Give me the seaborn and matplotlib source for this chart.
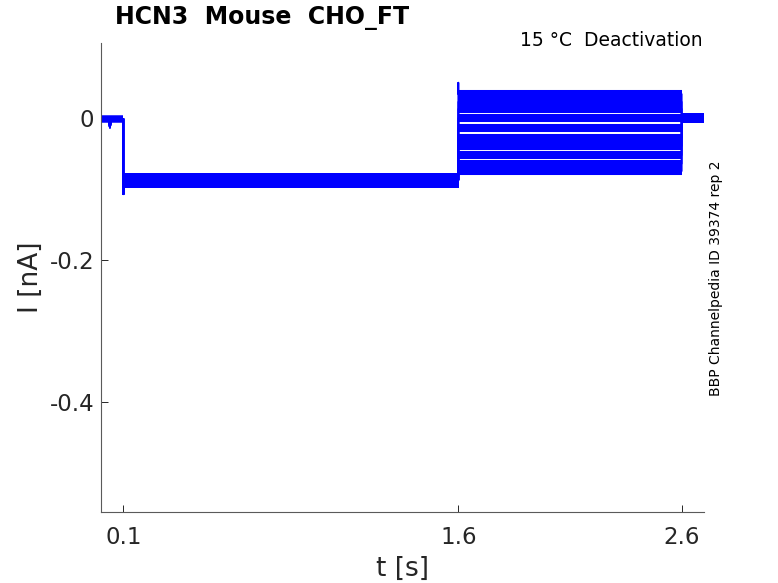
import numpy as np
import pandas as pd
import matplotlib
matplotlib.use("Agg")
import matplotlib.pyplot as plt
import seaborn as sns

# ---- data ----
t_start, t_step_on, t_step_off, t_tail_off, t_end = 0.0, 0.1, 1.6, 2.6, 2.7
hold_level = -0.001          # nA, before step
step_level = -0.087          # nA, hyperpolarising step
post_level = 0.0             # nA, after tail
on_spike = -0.107            # capacitive transient at step onset
off_spike = 0.050            # capacitive transient at step offset
pre_dip_t = [0.035, 0.040, 0.045]
pre_dip_i = [-0.001, -0.013, -0.001]
tail_levels = [0.034, 0.023, 0.013, 0.0, -0.014, -0.0275, -0.039, -0.052, -0.064, -0.0745]

x_ticks = [0.1, 1.6, 2.6]
x_tick_labels = ["0.1", "1.6", "2.6"]
y_ticks = [0.0, -0.2, -0.4]
y_tick_labels = ["0", "-0.2", "-0.4"]

# ---- build long-form tables ----
thin_rows, hold_rows, step_rows, tail_rows, post_rows = [], [], [], [], []
for k, tl in enumerate(tail_levels):
    spike_off = off_spike if k == 0 else max(tl, step_level)
    ts = [t_start] + pre_dip_t + [t_step_on, t_step_on, t_step_on, t_step_off, t_step_off,
                                  t_step_off, t_tail_off, t_tail_off, t_end]
    cur = [hold_level] + pre_dip_i + [hold_level, on_spike, step_level, step_level, spike_off,
                                      tl, tl, post_level, post_level]
    for o, (t, c) in enumerate(zip(ts, cur)):
        thin_rows.append(dict(sweep=k, order=o, t=t, i=c))
    for o, (t, c) in enumerate([(t_start, hold_level), (t_step_on, hold_level)]):
        hold_rows.append(dict(sweep=k, order=o, t=t, i=c))
    for o, (t, c) in enumerate([(t_step_on + 0.004, step_level), (t_step_off, step_level)]):
        step_rows.append(dict(sweep=k, order=o, t=t, i=c))
    for o, (t, c) in enumerate([(t_step_off, tl), (t_tail_off, tl)]):
        tail_rows.append(dict(sweep=k, order=o, t=t, i=c))
    for o, (t, c) in enumerate([(t_tail_off, post_level), (t_end, post_level)]):
        post_rows.append(dict(sweep=k, order=o, t=t, i=c))

thin = pd.DataFrame(thin_rows)
hold = pd.DataFrame(hold_rows)
step = pd.DataFrame(step_rows)
tail = pd.DataFrame(tail_rows)
post = pd.DataFrame(post_rows)

sns.set_style("white")
plt.rcParams["font.family"] = ["DejaVu Sans"]

fig = plt.figure(figsize=(7.78, 5.83), dpi=100)
ax = fig.add_axes([101 / 778, 1 - 512 / 583, (704 - 101) / 778, (512 - 43) / 583])

blue = "#0000ff"
pal = [blue] * len(tail_levels)
common = dict(x="t", y="i", hue="sweep", units="sweep", estimator=None, sort=False,
              palette=pal, legend=False, ax=ax)
sns.lineplot(data=thin, lw=1.3, **common)
sns.lineplot(data=hold, lw=4.5, **common)
sns.lineplot(data=step, lw=10.5, **common)
sns.lineplot(data=tail, lw=5.8, **common)
sns.lineplot(data=post, lw=7.0, **common)
for ln in ax.get_lines():
    ln.set_solid_capstyle("butt")

ax.set_xlim(0.0, 2.7)
ax.set_ylim(-0.555, 0.106)
ax.set_xticks(x_ticks)
ax.set_xticklabels(x_tick_labels)
ax.set_yticks(y_ticks)
ax.set_yticklabels(y_tick_labels)
ax.tick_params(direction="in", length=5, width=0.7, colors="#262626", labelsize=16.5,
               bottom=True, left=True, top=False, right=False)
ax.tick_params(axis="x", pad=10)
ax.tick_params(axis="y", pad=5)
for s in ["top", "right"]:
    ax.spines[s].set_visible(False)
for s in ["bottom", "left"]:
    ax.spines[s].set_color("#5a5a5a")
    ax.spines[s].set_linewidth(0.8)

ax.set_xlabel("t [s]", fontsize=19, color="#262626", labelpad=5)
ax.set_ylabel("I [nA]", fontsize=19, color="#262626", labelpad=4)

fig.text(115 / 778, 1 - 18 / 583, "HCN3  Mouse  CHO_FT", fontsize=17, fontweight="bold",
         ha="left", va="center", color="black")
fig.text(703 / 778, 1 - 41 / 583, "15 °C  Deactivation", fontsize=13.5,
         ha="right", va="center", color="black")
fig.text(716 / 778, 1 - 278 / 583, "BBP Channelpedia ID 39374 rep 2", fontsize=10,
         rotation=90, ha="center", va="center", color="black")

fig.savefig("out.png", dpi=100)
